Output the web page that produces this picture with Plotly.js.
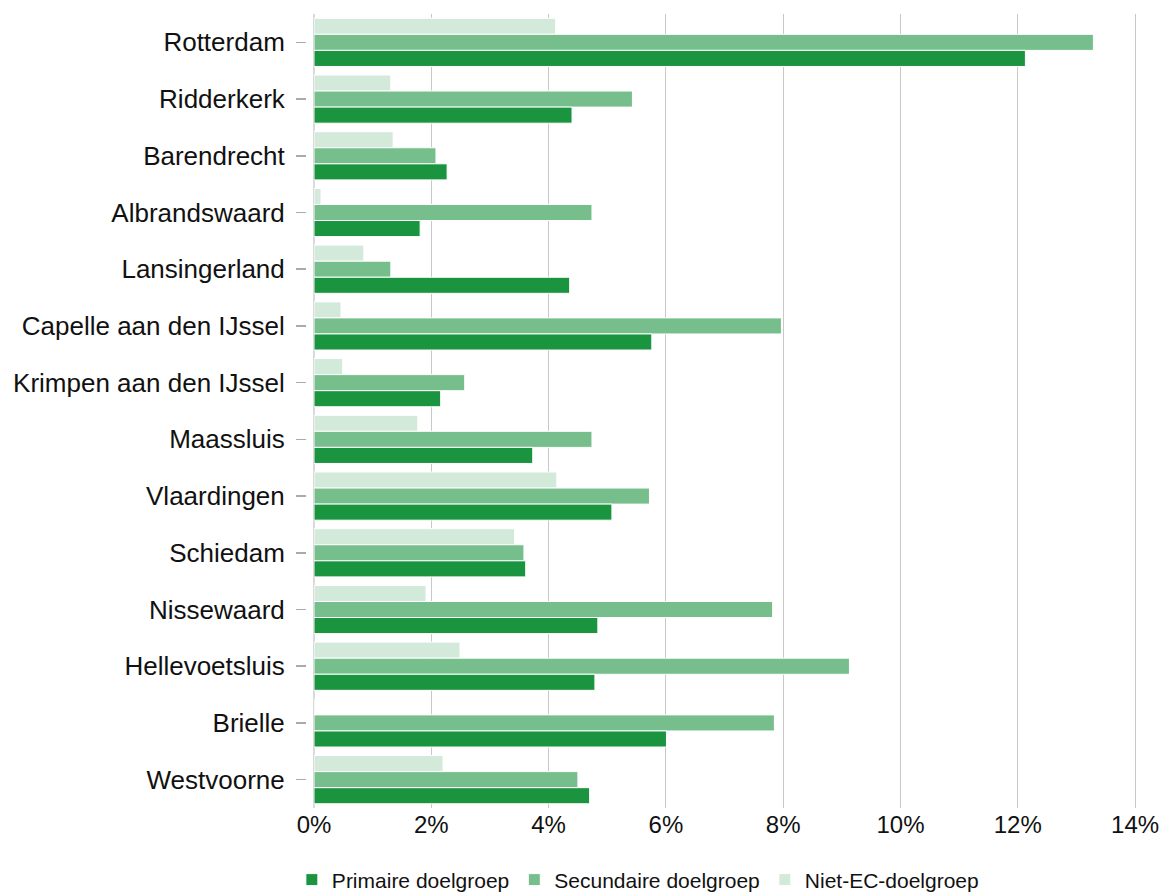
<!DOCTYPE html>
<html>
<head>
<meta charset="utf-8">
<script src="https://cdn.plot.ly/plotly-3.0.1.min.js"></script>
<style>html,body{margin:0;padding:0;background:#fff;}#chart{width:1164px;height:894px;}</style>
</head>
<body>
<div id="chart"></div>
<script>
const categories = ["Rotterdam","Ridderkerk","Barendrecht","Albrandswaard","Lansingerland","Capelle aan den IJssel","Krimpen aan den IJssel","Maassluis","Vlaardingen","Schiedam","Nissewaard","Hellevoetsluis","Brielle","Westvoorne"];
const primaire   = [12.13, 4.40, 2.27, 1.81, 4.36, 5.76, 2.16, 3.73, 5.08, 3.61, 4.84, 4.79, 6.01, 4.70];
const secundaire = [13.29, 5.43, 2.08, 4.74, 1.31, 7.97, 2.57, 4.74, 5.72, 3.58, 7.82, 9.13, 7.85, 4.50];
const nietEC     = [4.12, 1.31, 1.35, 0.12, 0.85, 0.46, 0.49, 1.77, 4.14, 3.42, 1.91, 2.49, 0, 2.20];
const seriesNames = ["Primaire doelgroep","Secundaire doelgroep","Niet-EC-doelgroep"];
const xTickVals = [0,2,4,6,8,10,12,14];
const xTickText = ["0%","2%","4%","6%","8%","10%","12%","14%"];

const colors = {prim:'#1b943f', sec:'#76bf8c', niet:'#d3eadb'};
const line = {color:'#ffffff', width:1};

const traces = [
  {type:'bar', orientation:'h', name:seriesNames[2], y:categories, x:nietEC, marker:{color:colors.niet, line:line}, legendrank:3, hoverinfo:'x+y'},
  {type:'bar', orientation:'h', name:seriesNames[1], y:categories, x:secundaire, marker:{color:colors.sec, line:line}, legendrank:2, hoverinfo:'x+y'},
  {type:'bar', orientation:'h', name:seriesNames[0], y:categories, x:primaire, marker:{color:colors.prim, line:line}, legendrank:1, hoverinfo:'x+y'}
];

const layout = {
  width:1164, height:894,
  margin:{l:306, r:26, t:14, b:86},
  paper_bgcolor:'#ffffff', plot_bgcolor:'#ffffff',
  font:{family:'"Liberation Sans", Arial, sans-serif', color:'#111'},
  barmode:'group', bargap:0.15, bargroupgap:0,
  showlegend:true,
  legend:{orientation:'h', xref:'container', yref:'container', x:0.548, xanchor:'center', y:0.0157, yanchor:'middle', font:{size:21, color:'#111'}, traceorder:'normal'},
  xaxis:{
    domain:[0.0096,1], range:[0,14.05],
    tickmode:'array', tickvals:xTickVals, ticktext:xTickText,
    showgrid:true, gridcolor:'#c8c8c8', gridwidth:1,
    zeroline:true, zerolinecolor:'#dadada', zerolinewidth:2,
    showline:false, ticks:'',
    tickfont:{size:24, color:'#111'}, fixedrange:true
  },
  yaxis:{
    anchor:'free', position:0,
    type:'category', categoryorder:'array', categoryarray:categories,
    autorange:'reversed',
    showgrid:false, zeroline:false, showline:false,
    ticks:'outside', ticklen:10, tickwidth:1.5, tickcolor:'#aaaaaa',
    ticklabelstandoff:6,
    tickfont:{size:26, color:'#111'}, fixedrange:true
  }
};

Plotly.newPlot('chart', traces, layout, {displayModeBar:false, staticPlot:true});
</script>
</body>
</html>
